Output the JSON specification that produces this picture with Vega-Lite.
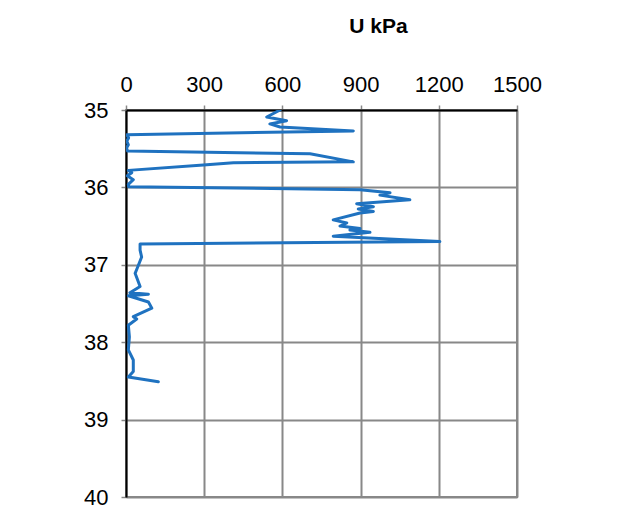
{
  "$schema": "https://vega.github.io/schema/vega-lite/v6.json",
  "autosize": "none",
  "width": 391,
  "height": 387,
  "padding": {"left": 126, "top": 110, "right": 100, "bottom": 28},
  "background": "white",
  "title": {"text": "U kPa", "font": "Liberation Sans", "fontSize": 21, "fontWeight": "bold", "color": "black", "dx": 57, "offset": 36, "anchor": "middle"},
  "data": {"values": [
    {"d": 35.00, "u": 591},
    {"d": 35.09, "u": 540},
    {"d": 35.14, "u": 616},
    {"d": 35.18, "u": 552},
    {"d": 35.22, "u": 591},
    {"d": 35.27, "u": 872},
    {"d": 35.32, "u": 3},
    {"d": 35.36, "u": 10},
    {"d": 35.40, "u": 3},
    {"d": 35.45, "u": 9},
    {"d": 35.49, "u": 2},
    {"d": 35.53, "u": 6},
    {"d": 35.565, "u": 706},
    {"d": 35.67, "u": 872},
    {"d": 35.68, "u": 412},
    {"d": 35.71, "u": 297},
    {"d": 35.78, "u": 9},
    {"d": 35.81, "u": 22},
    {"d": 35.85, "u": 5},
    {"d": 35.90, "u": 28},
    {"d": 35.96, "u": 9},
    {"d": 35.99, "u": 10},
    {"d": 36.03, "u": 898},
    {"d": 36.07, "u": 1013},
    {"d": 36.10, "u": 974},
    {"d": 36.16, "u": 1089},
    {"d": 36.21, "u": 885},
    {"d": 36.25, "u": 949},
    {"d": 36.28, "u": 891},
    {"d": 36.31, "u": 949},
    {"d": 36.33, "u": 898},
    {"d": 36.42, "u": 795},
    {"d": 36.46, "u": 847},
    {"d": 36.50, "u": 821},
    {"d": 36.53, "u": 898},
    {"d": 36.55, "u": 859},
    {"d": 36.58, "u": 936},
    {"d": 36.63, "u": 795},
    {"d": 36.70, "u": 1204},
    {"d": 36.73, "u": 54},
    {"d": 36.81, "u": 54},
    {"d": 36.90, "u": 60},
    {"d": 37.06, "u": 41},
    {"d": 37.11, "u": 35},
    {"d": 37.28, "u": 54},
    {"d": 37.36, "u": 15},
    {"d": 37.38, "u": 86},
    {"d": 37.40, "u": 9},
    {"d": 37.48, "u": 86},
    {"d": 37.56, "u": 99},
    {"d": 37.67, "u": 28},
    {"d": 37.70, "u": 41},
    {"d": 37.78, "u": 9},
    {"d": 37.93, "u": 13},
    {"d": 38.10, "u": 9},
    {"d": 38.23, "u": 28},
    {"d": 38.38, "u": 28},
    {"d": 38.45, "u": 9},
    {"d": 38.51, "u": 124}
  ]},
  "mark": {"type": "line", "color": "#1f72c0", "strokeWidth": 3, "clip": true, "strokeJoin": "round", "strokeCap": "round"},
  "encoding": {
    "x": {
      "field": "u", "type": "quantitative",
      "scale": {"domain": [0, 1500], "nice": false, "zero": false},
      "axis": {"orient": "top", "title": null, "values": [0, 300, 600, 900, 1200, 1500], "format": "d",
        "labelFont": "Liberation Sans", "labelFontSize": 22, "labelColor": "black", "labelPadding": 9,
        "labelFlush": false, "labelOverlap": false,
        "tickColor": "#888", "tickSize": 5, "tickWidth": 1.5,
        "gridColor": "#888", "gridWidth": 2, "gridOpacity": 1,
        "domainColor": "black", "domainWidth": 2}
    },
    "y": {
      "field": "d", "type": "quantitative",
      "scale": {"domain": [35, 40], "reverse": true, "nice": false, "zero": false},
      "axis": {"title": null, "values": [35, 36, 37, 38, 39, 40], "format": "d",
        "labelFont": "Liberation Sans", "labelFontSize": 22, "labelColor": "black", "labelPadding": 13,
        "labelFlush": false, "labelOverlap": false,
        "tickColor": "#888", "tickSize": 5, "tickWidth": 1.5,
        "gridColor": "#888", "gridWidth": 2, "gridOpacity": 1,
        "domainColor": "black", "domainWidth": 2}
    },
    "order": {"field": "d", "type": "quantitative"}
  },
  "config": {"view": {"stroke": "#888", "strokeWidth": 2}}
}
